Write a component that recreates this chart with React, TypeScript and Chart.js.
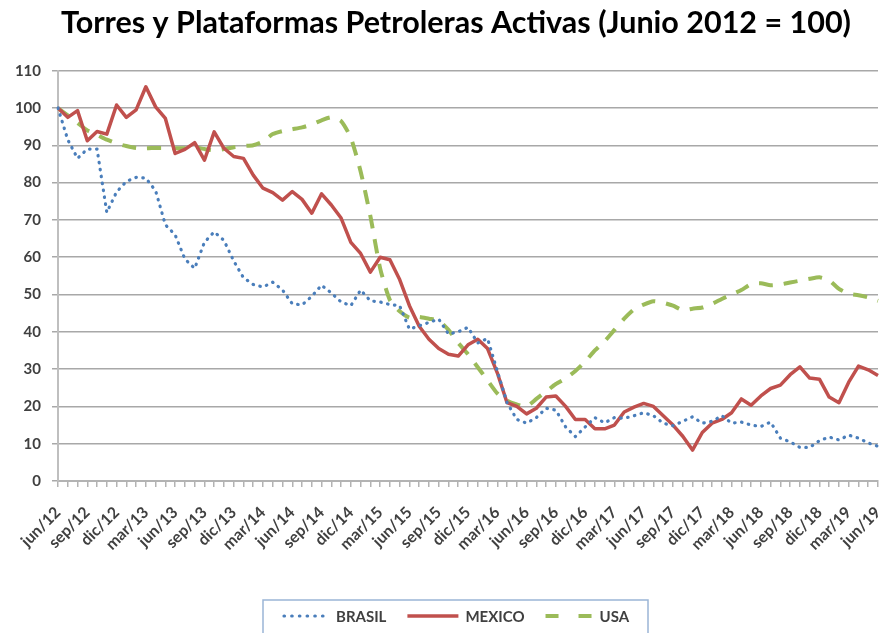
import React, { useEffect, useRef } from 'react';
import { Chart, registerables } from 'chart.js';

Chart.register(...registerables);

const TITLE = 'Torres y Plataformas Petroleras Activas (Junio 2012 = 100)';

const MONTHS = ['ene', 'feb', 'mar', 'abr', 'may', 'jun', 'jul', 'ago', 'sep', 'oct', 'nov', 'dic'];
const START_YEAR = 2012;
const START_MONTH = 5; // jun
const MONTH_COUNT = 85; // jun/12 .. jun/19
const LABEL_EVERY = 3;

const categories: string[] = Array.from({ length: MONTH_COUNT }, (_, i) => {
  const m = (START_MONTH + i) % 12;
  const y = START_YEAR + Math.floor((START_MONTH + i) / 12);
  return `${MONTHS[m]}/${String(y).slice(2)}`;
});

const SERIES_NAMES = ['BRASIL', 'MEXICO', 'USA'];

const brasil = [
  100, 91.5, 86.5, 89, 89, 72, 77.5, 80.3, 81.4, 81.2, 77.8, 68.7,
  66, 59.5, 57, 64, 66.8, 64.5, 59, 54.5, 52.7, 52, 53.3, 51.2,
  47.5, 47.2, 49.5, 52.5, 50.4, 48, 47, 51.2, 48.3, 48, 47.3, 47,
  40.7, 41.6, 42.5, 43.4, 39.4, 40, 41.2, 37, 38.2, 29.5, 21, 16.5,
  15.5, 17, 19.5, 19, 14.5, 11.9, 14.5, 17, 15.6, 17, 16.8, 17.5,
  18.3, 17.5, 15.5, 14.8, 16, 17.2, 15.5, 16, 17.5, 15.5, 15.8, 15,
  14.6, 15.8, 11.5, 10.5, 9, 9, 10.8, 11.8, 11, 12.3, 11.5, 10.2,
  9.3,
];

const mexico = [
  100, 97.5, 99.3, 91.2, 93.7, 93, 100.8, 97.5, 99.5, 105.7, 100.3, 97.2,
  87.8, 88.9, 90.7, 86, 93.6, 89.2, 87, 86.5, 82, 78.5, 77.3, 75.3,
  77.6, 75.5, 71.8, 77, 74, 70.5, 64, 61, 56, 60, 59.3, 54,
  47, 41.5, 38, 35.5, 34, 33.5, 36.5, 38, 35.5, 29, 21, 20,
  18, 19.5, 22.5, 22.8, 20, 16.5, 16.5, 14, 14, 15, 18.5, 19.8,
  20.8, 20, 17.5, 15, 12, 8.3, 13, 15.5, 16.5, 18.3, 22, 20.3,
  22.8, 24.8, 25.7, 28.5, 30.6, 27.6, 27.3, 22.5, 21, 26.5, 30.8, 29.8,
  28.3,
];

const usa = [
  100, 98, 96, 94, 92.8, 91.5, 90.5, 89.8, 89.3, 89.2, 89.3, 89.3,
  89.2, 89.2, 89.4, 89, 88.6, 89, 89.5, 89.8, 90, 91, 93, 93.8,
  94.3, 94.8, 95.6, 96.7, 97.5, 96.5, 92, 83, 71, 57, 48.5, 45.5,
  43.8, 44, 43.5, 43, 40.5, 37, 34, 30.5, 27, 23.5, 21.5, 20.5,
  20, 22, 24, 26, 27.5, 29.5, 32, 35, 37.5, 40.5, 43.5, 46,
  47.3, 48.2, 47.8, 47, 45.8, 46.2, 46.5, 47.5, 48.8, 50, 51.2, 52.8,
  53, 52.5, 52.7, 53.2, 53.7, 54.2, 54.6, 53.8, 51.5, 50.2, 49.8, 49.2,
  48.3,
];

const Y_MIN = 0;
const Y_MAX = 110;
const Y_STEP = 10;

const FONT = 'Lato, "Open Sans", "DejaVu Sans", sans-serif';
const TEXT_GRAY = '#404040';

const STYLES = [
  { color: '#4a7ebb', width: 3.2, dash: [0.5, 6.5], cap: 'round', legendDash: [0.5, 7.2], legendLen: 45 },
  { color: '#c0504d', width: 3.5, dash: [], cap: 'butt', legendDash: [], legendLen: 51 },
  { color: '#9bbb59', width: 4, dash: [14, 11], cap: 'butt', legendDash: [13, 20], legendLen: 47 },
];

const TITLE_POS = { x: 456, baseline: 33, size: 30.5 };
const LEGEND = { left: 263, top: 600, width: 385, height: 60, textY: 617, pad: 21, gap: 7, size: 15 };

const titlePlugin = {
  id: 'customTitle',
  afterDraw(chart: any) {
    const ctx = chart.ctx as CanvasRenderingContext2D;
    ctx.save();
    ctx.font = `bold ${TITLE_POS.size}px ${FONT}`;
    ctx.fillStyle = '#000000';
    ctx.textAlign = 'center';
    ctx.textBaseline = 'alphabetic';
    ctx.fillText(TITLE, TITLE_POS.x, TITLE_POS.baseline);
    ctx.restore();
  },
};

const customLegend = {
  id: 'customLegend',
  afterDraw(chart: any) {
    const ctx = chart.ctx as CanvasRenderingContext2D;
    ctx.save();
    ctx.strokeStyle = '#9bb5d6';
    ctx.lineWidth = 1.5;
    ctx.strokeRect(LEGEND.left, LEGEND.top, LEGEND.width, LEGEND.height);
    ctx.font = `bold ${LEGEND.size}px ${FONT}`;
    ctx.textBaseline = 'middle';
    ctx.textAlign = 'left';
    let x = LEGEND.left + LEGEND.pad;
    chart.data.datasets.forEach((ds: any, i: number) => {
      const st = STYLES[i];
      ctx.beginPath();
      ctx.strokeStyle = st.color;
      ctx.lineWidth = st.width;
      ctx.lineCap = st.cap as CanvasLineCap;
      ctx.setLineDash(st.legendDash);
      ctx.moveTo(x, LEGEND.textY - 1);
      ctx.lineTo(x + st.legendLen, LEGEND.textY - 1);
      ctx.stroke();
      ctx.setLineDash([]);
      x += st.legendLen + LEGEND.gap;
      ctx.fillStyle = TEXT_GRAY;
      ctx.fillText(ds.label, x, LEGEND.textY);
      x += ctx.measureText(ds.label).width + LEGEND.pad;
    });
    ctx.restore();
  },
};

export default function App() {
  const ref = useRef<HTMLCanvasElement | null>(null);

  useEffect(() => {
    document.body.style.margin = '0';
    const canvas = ref.current;
    if (!canvas) return;
    const series = [brasil, mexico, usa];
    const chart = new Chart(canvas, {
      type: 'line',
      data: {
        labels: categories,
        datasets: series.map((data, i) => ({
          label: SERIES_NAMES[i],
          data,
          borderColor: STYLES[i].color,
          backgroundColor: STYLES[i].color,
          borderWidth: STYLES[i].width,
          borderDash: STYLES[i].dash,
          borderCapStyle: STYLES[i].cap,
          borderJoinStyle: 'round',
          pointRadius: 0,
          tension: i === 2 ? 0.2 : 0,
          fill: false,
        })),
      },
      options: {
        responsive: false,
        animation: false,
        events: [],
        layout: { padding: { left: 8, right: 4, top: 70.7, bottom: 0 } },
        plugins: {
          title: { display: false },
          legend: { display: false },
          tooltip: { enabled: false },
        },
        scales: {
          x: {
            grid: {
              display: true,
              drawOnChartArea: false,
              drawTicks: true,
              tickLength: 6,
              color: '#b3b3b3',
              lineWidth: 1.5,
            },
            border: { color: '#b3b3b3', width: 2 },
            ticks: {
              autoSkip: false,
              maxRotation: 45,
              minRotation: 45,
              color: TEXT_GRAY,
              padding: 16,
              font: { family: FONT, size: 16, weight: 'bold' },
              callback: (_v: any, i: number) => (i % LABEL_EVERY === 0 ? categories[i] : ''),
            },
            afterFit: (s: any) => {
              s.height = 152;
              s.paddingRight = 0;
              s.paddingLeft = 0;
            },
          },
          y: {
            min: Y_MIN,
            max: Y_MAX,
            ticks: {
              stepSize: Y_STEP,
              color: TEXT_GRAY,
              padding: 11,
              font: { family: FONT, size: 15, weight: 'bold' },
            },
            grid: { color: '#a8a8a8', lineWidth: 1.5, tickLength: 6 },
            border: { color: '#bfbfbf', width: 2 },
            afterFit: (s: any) => {
              s.width = 50;
              s.paddingTop = 0;
            },
          },
        },
      },
      plugins: [titlePlugin, customLegend],
    } as any);
    return () => chart.destroy();
  }, []);

  return (
    <div style={{ width: 882, height: 633, position: 'relative', background: '#fff' }}>
      <canvas ref={ref} width={882} height={633} style={{ display: 'block' }} />
    </div>
  );
}
